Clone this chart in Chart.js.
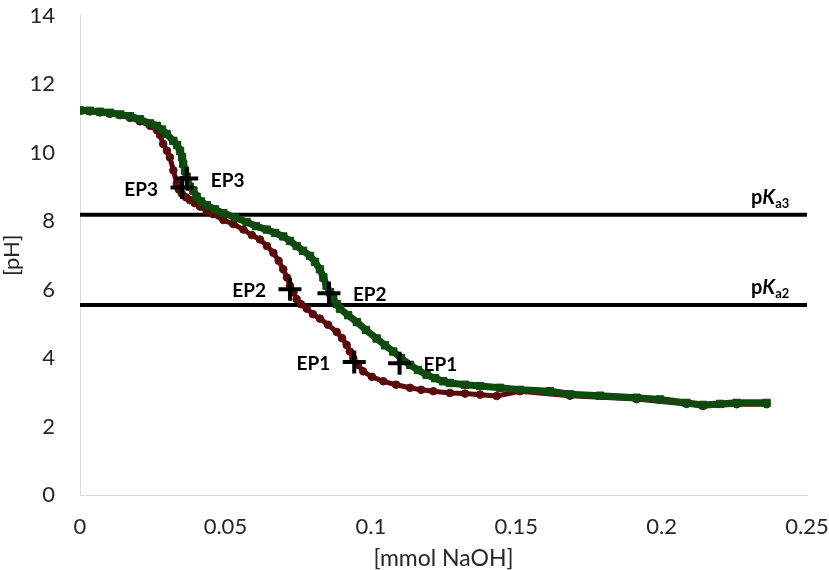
<!DOCTYPE html>
<html>
<head>
<meta charset="utf-8">
<script src="https://cdn.jsdelivr.net/npm/chart.js@4/dist/chart.umd.min.js"></script>
<style>
  html, body { margin: 0; padding: 0; background: #fff; }
  #wrap { width: 829px; height: 570px; position: relative; }
</style>
</head>
<body>
<div id="wrap"><canvas id="c" width="829" height="570"></canvas></div>
<script>
// ---- data ----
const xTicks = [0, 0.05, 0.1, 0.15, 0.2, 0.25];
const yTicks = [0, 2, 4, 6, 8, 10, 12, 14];

const redX = [0, 0.0034, 0.0069, 0.0103, 0.0138, 0.0172, 0.0206, 0.0241, 0.0265, 0.0275, 0.0286, 0.0299, 0.0309, 0.0321, 0.0333, 0.0340, 0.0350, 0.0365, 0.0378, 0.0395, 0.0413, 0.0436, 0.0458, 0.0493, 0.0527, 0.0562, 0.0591, 0.0619, 0.0643, 0.0665, 0.0683, 0.0699, 0.0712, 0.0722, 0.0734, 0.0745, 0.0760, 0.0780, 0.0801, 0.0825, 0.0853, 0.0883, 0.0901, 0.0917, 0.0928, 0.0940, 0.0956, 0.0974, 0.1004, 0.1043, 0.1087, 0.1135, 0.1173, 0.1215, 0.1272, 0.1324, 0.1376, 0.1433, 0.1513, 0.1685, 0.1914, 0.2086, 0.2142, 0.2258, 0.2361];
const redY = [11.22, 11.20, 11.17, 11.13, 11.09, 11.01, 10.91, 10.78, 10.65, 10.51, 10.25, 10.05, 9.86, 9.48, 9.09, 8.92, 8.80, 8.69, 8.61, 8.52, 8.42, 8.29, 8.20, 8.03, 7.91, 7.75, 7.59, 7.46, 7.27, 7.07, 6.84, 6.59, 6.35, 6.11, 5.92, 5.72, 5.57, 5.44, 5.28, 5.15, 4.97, 4.76, 4.58, 4.38, 4.19, 3.99, 3.80, 3.61, 3.45, 3.32, 3.22, 3.13, 3.07, 3.03, 2.98, 2.96, 2.93, 2.89, 3.03, 2.90, 2.80, 2.66, 2.60, 2.65, 2.65];

const greenX = [0, 0.0034, 0.0069, 0.0103, 0.0138, 0.0172, 0.0206, 0.0241, 0.0264, 0.0282, 0.0298, 0.0321, 0.0334, 0.0344, 0.0351, 0.0355, 0.0361, 0.0367, 0.0378, 0.0390, 0.0401, 0.0416, 0.0436, 0.0464, 0.0493, 0.0533, 0.0573, 0.0605, 0.0642, 0.0671, 0.0699, 0.0722, 0.0745, 0.0767, 0.0791, 0.0808, 0.0825, 0.0837, 0.0848, 0.0860, 0.0871, 0.0884, 0.0894, 0.0922, 0.0952, 0.0983, 0.1020, 0.1049, 0.1077, 0.1104, 0.1135, 0.1162, 0.1192, 0.1221, 0.1249, 0.1272, 0.1324, 0.1376, 0.1444, 0.1513, 0.1616, 0.1685, 0.1788, 0.1914, 0.1994, 0.2086, 0.2142, 0.2201, 0.2258, 0.2361];
const greenY = [11.23, 11.22, 11.19, 11.16, 11.11, 11.06, 10.97, 10.85, 10.78, 10.67, 10.54, 10.34, 10.22, 10.05, 9.87, 9.67, 9.47, 9.29, 9.00, 8.89, 8.71, 8.57, 8.46, 8.34, 8.23, 8.10, 7.97, 7.85, 7.75, 7.65, 7.55, 7.42, 7.27, 7.13, 6.98, 6.81, 6.59, 6.35, 6.11, 5.92, 5.72, 5.57, 5.44, 5.25, 5.05, 4.82, 4.57, 4.37, 4.19, 4.00, 3.80, 3.65, 3.51, 3.41, 3.32, 3.27, 3.22, 3.18, 3.13, 3.07, 3.03, 2.94, 2.90, 2.84, 2.79, 2.69, 2.63, 2.66, 2.69, 2.69];

const epLabels = ['EP1', 'EP2', 'EP3'];
const epRedX = [0.0943, 0.0722, 0.0351];
const epRedY = [3.88, 6.01, 8.98];
const epGreenX = [0.1099, 0.0856, 0.0367];
const epGreenY = [3.85, 5.89, 9.24];

const pKaNames = ['a3', 'a2'];
const pKaValues = [8.18, 5.55];

// ---- build ----
const zip = (xs, ys) => xs.map((x, i) => ({ x: x, y: ys[i] }));
const RED = '#5a0b0b';
const GREEN = '#0f4a0f';

const datasets = [];
pKaValues.forEach(v => {
  datasets.push({
    data: [{ x: xTicks[0], y: v }, { x: xTicks[xTicks.length - 1], y: v }],
    borderColor: '#000', borderWidth: 4, pointRadius: 0, order: 4, tension: 0
  });
});
datasets.push({
  data: zip(redX, redY), borderColor: RED, backgroundColor: RED, borderWidth: 5,
  pointStyle: 'circle', pointRadius: 3.8, pointBorderWidth: 1, order: 3, tension: 0
});
datasets.push({
  data: zip(greenX, greenY), borderColor: GREEN, backgroundColor: GREEN, borderWidth: 7,
  pointStyle: 'rect', pointRadius: 5.2, pointBorderWidth: 1, order: 2, tension: 0
});
datasets.push({
  data: zip(epRedX, epRedY), showLine: false, borderColor: '#000', backgroundColor: '#000',
  pointStyle: 'cross', pointRadius: 11.5, pointBorderWidth: 4, order: 1
});
datasets.push({
  data: zip(epGreenX, epGreenY), showLine: false, borderColor: '#000', backgroundColor: '#000',
  pointStyle: 'cross', pointRadius: 11.5, pointBorderWidth: 4, order: 1
});

const labelPlugin = {
  id: 'labels',
  afterDatasetsDraw(chart) {
    const ctx = chart.ctx;
    const xs = chart.scales.x, ys = chart.scales.y;
    ctx.save();
    ctx.fillStyle = '#000';
    ctx.font = 'bold 19px Lato';
    ctx.textBaseline = 'middle';
    epLabels.forEach((t, i) => {
      const rx = xs.getPixelForValue(epRedX[i]), ry = ys.getPixelForValue(epRedY[i]);
      ctx.textAlign = 'right';
      ctx.fillText(t, rx - 24, ry + 2);
      const gx = xs.getPixelForValue(epGreenX[i]), gy = ys.getPixelForValue(epGreenY[i]);
      ctx.textAlign = 'left';
      ctx.fillText(t, gx + 24, gy + 2);
    });
    // pKa labels
    ctx.textBaseline = 'alphabetic';
    ctx.textAlign = 'left';
    pKaValues.forEach((v, i) => {
      const y = ys.getPixelForValue(v) - 11;
      let x = xs.right - 56;
      ctx.font = 'bold 20px Lato';
      ctx.fillText('p', x, y);
      x += ctx.measureText('p').width;
      ctx.font = 'italic bold 20px Lato';
      ctx.fillText('K', x, y);
      x += ctx.measureText('K').width;
      ctx.font = 'bold 13px Lato';
      ctx.fillText(pKaNames[i], x, y + 4);
    });
    ctx.restore();
  }
};

function zeroPad(s) {
  s.paddingTop = 0; s.paddingBottom = 0; s.paddingLeft = 0; s.paddingRight = 0;
}

new Chart(document.getElementById('c'), {
  type: 'line',
  data: { datasets: datasets },
  plugins: [labelPlugin],
  options: {
    responsive: false,
    animation: false,
    events: [],
    layout: { padding: { left: 0, right: 22, top: 10, bottom: 0 } },
    plugins: { legend: { display: false }, tooltip: { enabled: false } },
    scales: {
      x: {
        type: 'linear', min: 0, max: 0.25,
        afterBuildTicks: s => { s.ticks = xTicks.map(v => ({ value: v })); },
        afterFit: s => { s.height = 75; zeroPad(s); },
        grid: { display: false, drawTicks: false },
        border: { display: true, color: '#d9d9d9', width: 1 },
        ticks: { color: '#262626', font: { family: 'Lato', size: 22 }, padding: 19, maxRotation: 0,
                 callback: v => String(v) },
        title: { display: true, text: '[mmol NaOH]', color: '#262626',
                 font: { family: 'Lato', size: 23, lineHeight: 1 }, padding: { top: 0, bottom: 0 } }
      },
      y: {
        type: 'linear', min: 0, max: 14,
        afterBuildTicks: s => { s.ticks = yTicks.map(v => ({ value: v })); },
        afterFit: s => { s.width = 80; zeroPad(s); },
        grid: { display: false, drawTicks: false },
        border: { display: true, color: '#d9d9d9', width: 1 },
        ticks: { color: '#262626', font: { family: 'Lato', size: 22, lineHeight: 1 }, padding: 25,
                 callback: v => String(v) },
        title: { display: true, text: '[pH]', color: '#262626',
                 font: { family: 'Lato', size: 22, lineHeight: 1 }, padding: { top: 1, bottom: 0 } }
      }
    }
  }
});
</script>
</body>
</html>
